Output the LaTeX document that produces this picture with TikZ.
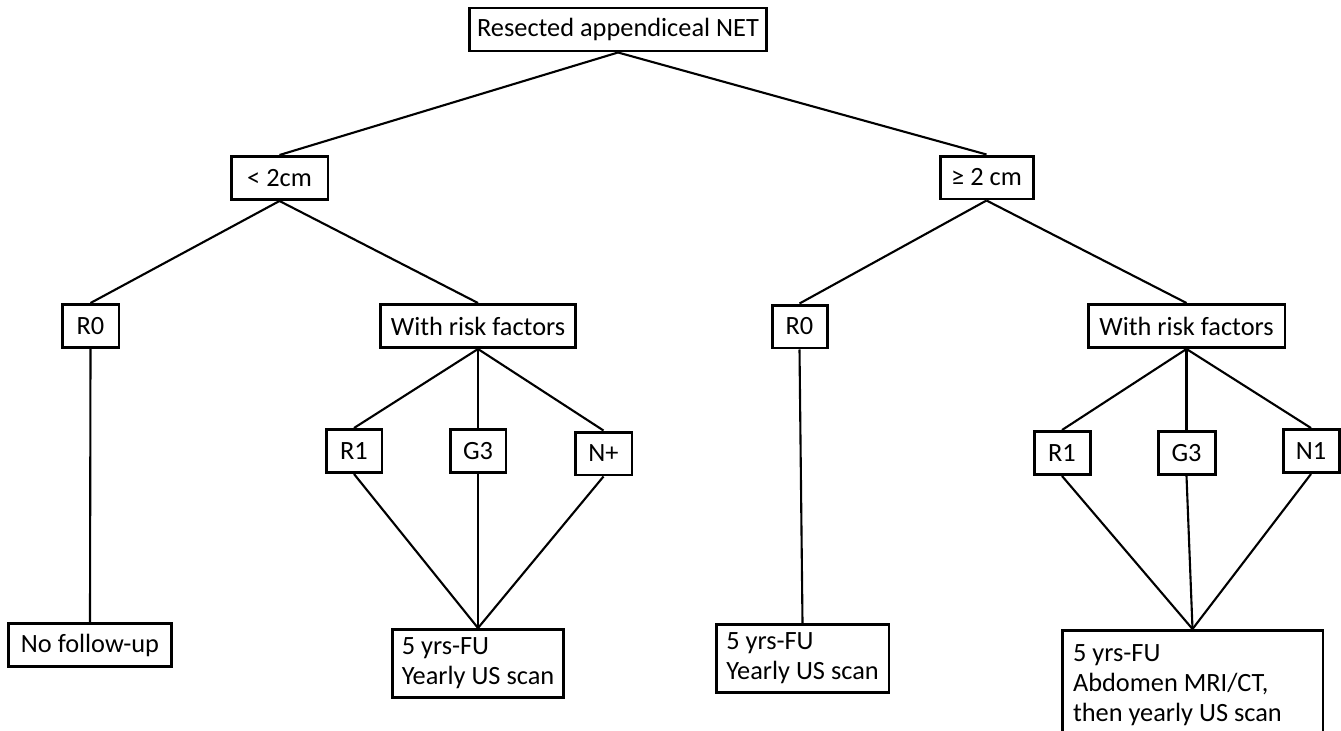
\documentclass[tikz,border=0pt]{standalone}
\usepackage{fontspec}
\setmainfont{Carlito}
\usetikzlibrary{calc}
\tikzstyle{box}=[draw,line width=1.7pt,inner sep=0pt,minimum height=0.86cm,font=\fontsize{15}{17}\selectfont]
\tikzstyle{fubox}=[draw,line width=1.7pt,anchor=north,align=flush left,inner xsep=0.22cm,inner ysep=0.17cm,font=\fontsize{15}{17}\selectfont]
\tikzstyle{edge} = [draw,line width=1.2pt]

\begin{document}
\begin{tikzpicture}[x=0.02cm,y=-0.02cm]

    \useasboundingbox (0,0) rectangle (1341,730);

    \foreach \pos/ \name / \w / \label in {{(618,29.5)/top/5.96/Resected appendiceal NET},
        {(279.5,178)/lt/1.94/< 2cm}, {(986.5,177.5)/ge/1.86/≥ 2 cm},
        {(90.5,326)/rOa/1.14/R0}, {(478,326)/wrfa/3.92/With risk factors},
        {(799.5,326.5)/rOb/1.10/R0}, {(1186.5,326)/wrfb/3.94/With risk factors},
        {(354,451)/rIa/1.12/R1}, {(478,451)/gIIIa/1.12/G3}, {(603.5,453.5)/npos/1.14/N+},
        {(1062,453)/rIb/1.12/R1}, {(1186.5,453)/gIIIb/1.14/G3}, {(1311,451)/nI/1.12/N1},
        {(90,645)/nofu/3.28/No follow-up}}
        \node[box,minimum width=\w cm] (\name) at \pos {\label};

    % follow-up boxes
    \node[fubox,inner xsep=0pt,minimum width=3.44cm] (fua) at (478,628) {5 yrs-FU\\Yearly US scan};
    \node[fubox,inner xsep=0pt,minimum width=3.46cm] (fub) at (802.5,623) {5 yrs-FU\\Yearly US scan};
    \node[fubox,text width=4.78cm,minimum height=2.18cm] (fuc) at (1192.5,629) {5 yrs-FU\\Abdomen MRI/CT,\\then yearly US scan};

    % Connect boxes
    \foreach \source/ \dest in {top/lt,top/ge,lt/rOa,lt/wrfa,ge/rOb,ge/wrfb,
        wrfa/rIa,wrfa/gIIIa,wrfa/npos,wrfb/rIb,wrfb/gIIIb,wrfb/nI,
        rOa/nofu,rIa/fua,gIIIa/fua,npos/fua,rOb/fub,rIb/fuc,gIIIb/fuc,nI/fuc}
        \draw[edge] (\source.south) -- (\dest.north);

\end{tikzpicture}
\end{document}
